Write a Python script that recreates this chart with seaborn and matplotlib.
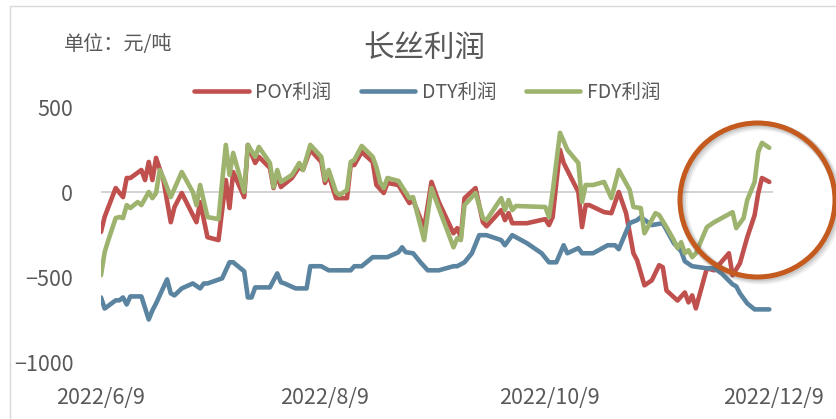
import pandas as pd
import matplotlib.pyplot as plt
import seaborn as sns
from matplotlib.patches import Ellipse, Rectangle

# day offsets from 2022-06-09, values in 元/吨
start = pd.Timestamp("2022-06-09")

poy_days = [0, 1, 4, 6, 7, 8, 11, 12, 13, 14, 15, 17, 19, 20, 22, 26, 27, 29, 32, 34,
            35, 36, 39, 40, 42, 43, 46, 47, 48, 49, 52, 54, 55, 57, 60, 61, 62, 64, 67, 68,
            69, 71, 74, 75, 77, 78, 81, 84, 85, 88, 90, 92, 96, 97, 98, 99, 102, 104, 105, 109,
            110, 111, 112, 116, 121, 122, 123, 125, 126, 130, 131, 132, 133, 137, 139, 141, 143, 145, 146, 148,
            150, 152, 153, 154, 157, 159, 160, 161, 162, 165, 167, 171, 172, 174, 176, 178, 179, 180, 182]
poy_vals = [-232, -143, 25, -28, 84, 84, 131, 72, 178, 72, 202, 72, -175, -87, -4, -175, -57, -263, -280, 72,
            -92, 119, -28, 278, 172, 208, 143, 25, 102, 31, 84, 149, 131, 249, 178, 55, 102, -34, -34, 160,
            160, 237, 178, 43, -4, 55, 43, -63, -45, -210, 61, -57, -240, -210, -263, -34, 25, -175, -199, -104,
            -163, -122, -181, -181, -157, -192, -145, 249, 172, 2, -204, -75, -75, -116, -122, 2, -122, -357, -398, -545,
            -516, -427, -439, -575, -634, -587, -645, -604, -680, -445, -457, -357, -486, -416, -263, -134, -4, 84, 61]

dty_days = [0, 1, 4, 5, 6, 7, 8, 11, 13, 14, 15, 18, 19, 20, 22, 25, 27, 28, 29, 33,
            35, 36, 39, 40, 41, 42, 46, 48, 49, 50, 53, 56, 57, 60, 62, 68, 69, 71, 74, 78,
            81, 82, 83, 85, 87, 89, 92, 96, 97, 99, 101, 103, 105, 109, 110, 112, 116, 120, 122, 124,
            126, 127, 130, 131, 134, 138, 140, 141, 144, 146, 147, 150, 153, 156, 158, 159, 161, 165, 167, 169,
            172, 173, 174, 176, 178, 182]
dty_vals = [-616, -681, -633, -633, -616, -657, -610, -610, -745, -692, -651, -510, -592, -604, -563, -534, -563, -534, -534, -504,
            -410, -410, -463, -616, -616, -557, -557, -475, -527, -534, -563, -563, -433, -433, -457, -457, -433, -433, -380, -380,
            -351, -322, -351, -357, -410, -457, -457, -433, -433, -410, -357, -251, -251, -280, -310, -251, -298, -357, -410, -410,
            -310, -357, -327, -357, -357, -310, -310, -333, -180, -163, -145, -192, -181, -298, -345, -404, -433, -445, -445, -475,
            -539, -551, -592, -651, -686, -686]

fdy_days = [0, 1, 2, 4, 5, 6, 7, 8, 10, 11, 13, 14, 15, 16, 17, 19, 22, 25, 26, 27,
            29, 32, 34, 35, 36, 39, 40, 42, 43, 46, 47, 48, 49, 52, 54, 55, 57, 60, 61, 62,
            64, 65, 67, 68, 69, 71, 74, 75, 76, 77, 78, 81, 84, 85, 88, 90, 92, 96, 97, 98,
            99, 102, 104, 105, 109, 110, 111, 112, 113, 121, 122, 123, 125, 127, 130, 131, 132, 134, 137, 139,
            141, 144, 145, 147, 148, 151, 152, 154, 156, 157, 158, 159, 160, 161, 162, 165, 167, 172, 173, 175,
            176, 178, 179, 180, 182]
fdy_vals = [-486, -350, -280, -151, -145, -151, -75, -92, -57, -75, 2, -34, -4, 131, 84, -28, 119, 2, -75, 43,
            -145, -157, 278, 102, 231, 2, 278, 208, 266, 172, 31, 131, 61, 102, 172, 131, 278, 208, 72, 131,
            2, -16, 14, 178, 190, 272, 208, 149, 61, 25, 84, 67, -34, -28, -280, 25, -92, -322, -269, -280,
            -75, -4, -151, -163, -34, -104, -45, -104, -80, -86, -145, 2, 349, 249, 172, -57, 43, 43, 61, -34,
            131, 14, -86, -92, -240, -122, -133, -204, -280, -327, -292, -357, -339, -380, -357, -204, -175, -116, -210, -151,
            -45, 61, 237, 290, 261]

series_names = ["POY利润", "DTY利润", "FDY利润"]
colors = ["#C0504D", "#5B84A0", "#9DB36E"]
tick_dates = ["2022-06-09", "2022-08-09", "2022-10-09", "2022-12-09"]
tick_labels = ["2022/6/9", "2022/8/9", "2022/10/9", "2022/12/9"]

frames = []
for name, days, vals in zip(series_names, [poy_days, dty_days, fdy_days], [poy_vals, dty_vals, fdy_vals]):
    frames.append(pd.DataFrame({
        "date": start + pd.to_timedelta(days, unit="D"),
        "profit": vals,
        "series": name,
    }))
df = pd.concat(frames, ignore_index=True)

sns.set_theme(style="white")
plt.rcParams["font.family"] = ["Noto Sans CJK SC", "DejaVu Sans"]

text_color = "#595959"

fig = plt.figure(figsize=(8.36, 4.19), dpi=100)
ax = fig.add_axes([0.1208, 0.1337, 0.8038, 0.6109])

ax.axhline(0, color="#D0D0D0", linewidth=1.3, zorder=1)

sns.lineplot(data=df, x="date", y="profit", hue="series", hue_order=series_names,
             palette=colors, estimator=None, linewidth=3.3, ax=ax,
             solid_joinstyle="round", solid_capstyle="round", zorder=2)

ax.set_xlim(pd.Timestamp(tick_dates[0]), pd.Timestamp(tick_dates[-1]))
ax.set_ylim(-1000, 500)
ax.set_yticks([500, 0, -500, -1000])
ax.set_xticks(pd.to_datetime(tick_dates))
ax.set_xticklabels(tick_labels)
ax.tick_params(axis="y", length=0, pad=20, labelsize=15.5, labelcolor=text_color)
ax.tick_params(axis="x", length=0, pad=17, labelsize=15.5, labelcolor=text_color)
ax.set_xlabel("")
ax.set_ylabel("")
for s in ax.spines.values():
    s.set_visible(False)

handles, labels = ax.get_legend_handles_labels()
ax.get_legend().remove()
leg = fig.legend(handles, labels, loc="center", bbox_to_anchor=(0.511, 0.78), ncol=3,
                 frameon=False, fontsize=14, handlelength=2.8, columnspacing=1.5,
                 handletextpad=0.35)
for t in leg.get_texts():
    t.set_color(text_color)
for h in leg.get_lines():
    h.set_linewidth(3.3)

fig.text(0.508, 0.885, "长丝利润", ha="center", va="center", fontsize=22, color=text_color)
fig.text(0.076, 0.893, "单位：元/吨", ha="left", va="center", fontsize=14.5, color=text_color)

# chart border
fig.add_artist(Rectangle((10 / 836, -0.1), 1.2, 1.1 - 6 / 419, transform=fig.transFigure,
                         fill=False, edgecolor="#D9D9D9", linewidth=1))

# highlight circle with a soft shadow ring
cx, cy = 757.5 / 836, 1 - 200 / 419
w, h = 155 / 836, 154 / 419
for k, a in [(3, 0.08), (2, 0.12), (1, 0.15)]:
    fig.add_artist(Ellipse((cx + k / 836, cy - k / 419), w, h, transform=fig.transFigure,
                           fill=False, edgecolor="#555555", alpha=a, linewidth=3.6 + k, zorder=4))
fig.add_artist(Ellipse((cx, cy), w, h, transform=fig.transFigure,
                       fill=False, edgecolor="#C55A1E", linewidth=3.6, zorder=5))

plt.savefig("out.png", dpi=100)
